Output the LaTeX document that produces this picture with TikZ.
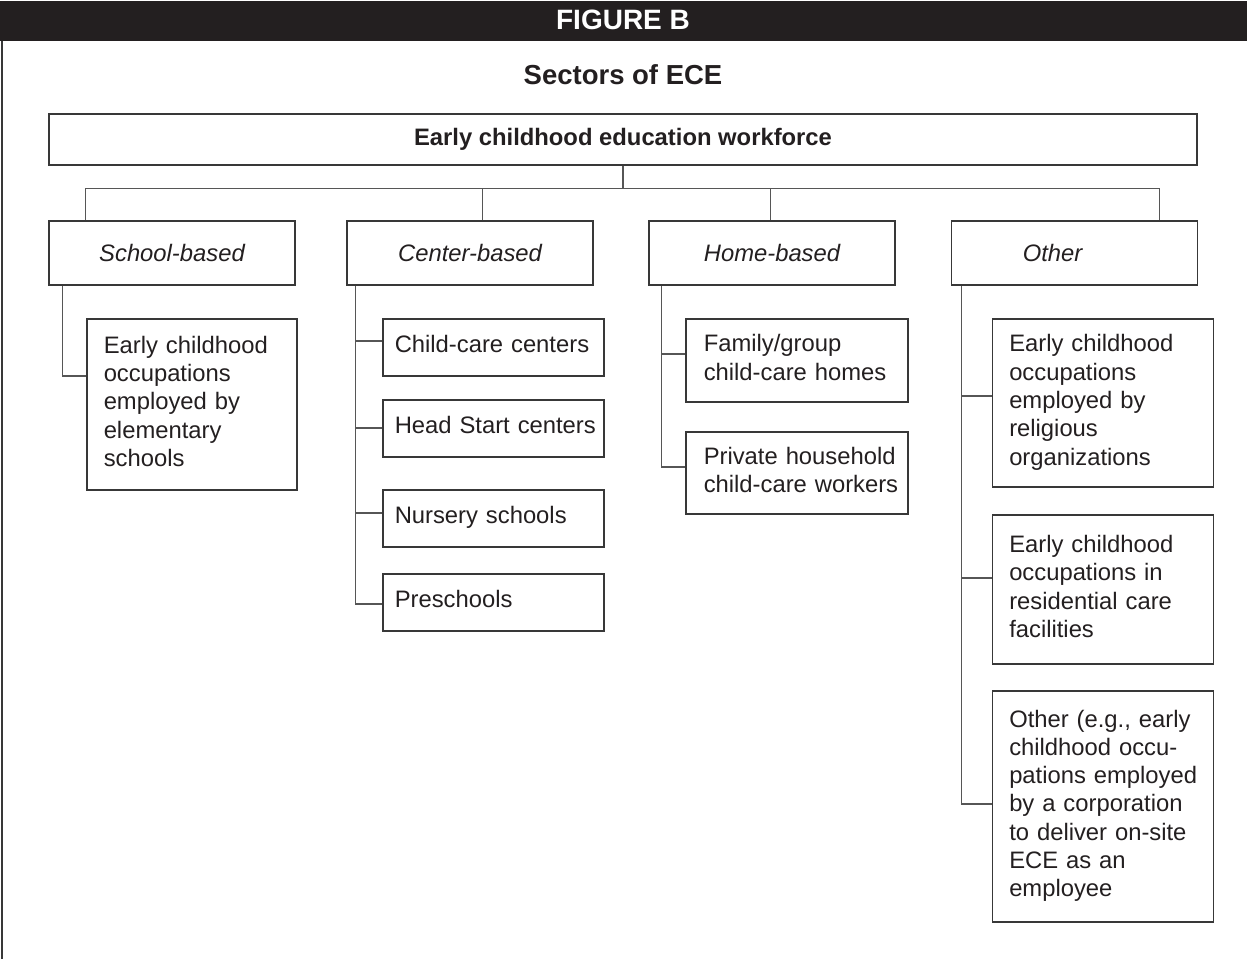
\documentclass[tikz,border=0pt]{standalone}
\usepackage{fontspec}
\setmainfont{Liberation Sans}
\usetikzlibrary{calc,positioning}
\definecolor{inkdark}{HTML}{231F20}
\definecolor{linegray}{HTML}{383838}
\hfuzz=40pt
\newcommand\boxlines[1]{\begin{tabular}{@{}l@{}}#1\end{tabular}}
\tikzset{%
	headbar/.style  = {fill=inkdark},
	headtext/.style = {text=white, inner sep=0pt, font=\fontsize{28}{30}\selectfont\bfseries},
	titletext/.style= {text=inkdark, inner sep=0pt, font=\fontsize{27.5}{30}\selectfont\bfseries},
	topbox/.style   = {draw=linegray, line width=1.5pt, rectangle, minimum width=1148pt, minimum height=51pt, inner sep=0pt, text=inkdark, font=\fontsize{23.8}{28}\selectfont\bfseries},
	catbox/.style   = {draw=linegray, line width=1.5pt, rectangle, minimum width=246pt, minimum height=64pt, inner sep=0pt, text=inkdark, font=\fontsize{23.8}{28.3}\selectfont\itshape},
	subbox/.style   = {draw=linegray, line width=1.5pt, rectangle, anchor=north west, inner xsep=17pt, inner ysep=0pt, align=left, text=inkdark, font=\fontsize{23.8}{28.3}\selectfont},
	link/.style     = {draw=linegray!85!white, line width=1.1pt},
}

\begin{document}
\begin{tikzpicture}[x=1pt,y=-1pt]
		\useasboundingbox (0,0) rectangle (1247,959);
		\fill[headbar] (0,0.5) rectangle (1247,41);
		\draw[linegray, line width=2pt] (2,41) -- (2,959);
		\node[headtext] (fig) at (623,19.5) {FIGURE B};
		\node[titletext] (title) at (623,75) {Sectors of ECE};
		
		\node[topbox] (ecew) at (623,139.5) {Early childhood education workforce};
		
		\node[catbox] (school) at (172,253) {School-based};
		\node[catbox] (center) at (470,253) {Center-based};
		\node[catbox] (home) at (772,253) {Home-based};
		\node[catbox] (other) at (1074.5,253) {Other\hspace*{44pt}};
		
		% bus from the workforce box
		\coordinate (bus) at ($(ecew.south)+(0,23)$);
		\coordinate (dS) at ($(school.north west)+(37,0)$);
		\coordinate (dC) at ($(center.north west)+(136,0)$);
		\coordinate (dH) at ($(home.north west)+(122,0)$);
		\coordinate (dO) at ($(other.north west)+(209,0)$);
		\draw[link] (ecew.south) -- (bus);
		\draw[link] (dS) -- (dS |- bus) -- (dO |- bus) -- (dO);
		\draw[link] (dC) -- (dC |- bus);
		\draw[link] (dH) -- (dH |- bus);
		
		\node[subbox, text width=176pt, minimum height=171pt] (s1) at (86,318) {\boxlines{Early childhood\\occupations\\employed by\\elementary\\schools}};
		
		\node[subbox, inner xsep=12pt, text width=197pt, minimum height=57pt] (c1) at (382,318) {\boxlines{Child-care centers}};
		\node[subbox, inner xsep=12pt, text width=197pt, minimum height=57pt] (c2) at (382,399) {\boxlines{Head Start centers}};
		\node[subbox, inner xsep=12pt, text width=197pt, minimum height=57pt] (c3) at (382,489) {\boxlines{Nursery schools}};
		\node[subbox, inner xsep=12pt, text width=197pt, minimum height=57pt] (c4) at (382,573) {\boxlines{Preschools}};
		
		\node[subbox, inner xsep=18pt, text width=186pt, minimum height=83pt] (h1) at (685,318) {\boxlines{Family/group\\child-care homes}};
		\node[subbox, inner xsep=18pt, text width=186pt, minimum height=82pt] (h2) at (685,431) {\boxlines{Private household\\child-care workers}};
		
		\node[subbox, text width=187pt, minimum height=168pt] (o1) at (991.5,318) {\boxlines{Early childhood\\occupations\\employed by\\religious\\organizations}};
		\node[subbox, text width=187pt, minimum height=149pt] (o2) at (991.5,514) {\boxlines{Early childhood\\occupations in\\residential care\\facilities}};
		\node[subbox, text width=187pt, minimum height=231pt] (o3) at (991.5,690) {\boxlines{Other (e.g., early\\childhood occu-\\pations employed\\by a corporation\\to deliver on-site\\ECE as an\\employee}};
		
		% trunks and branches
		\coordinate (sT) at ($(school.south west)+(14,0)$);
		\coordinate (cT) at ($(center.south west)+(9,0)$);
		\coordinate (hT) at ($(home.south west)+(13,0)$);
		\coordinate (oT) at ($(other.south west)+(11,0)$);
		\draw[link] (sT) |- ($(s1.north west)+(0,58)$);
		\foreach \b/\d in {c1/23,c2/29,c3/24,c4/31}
			\draw[link] (cT) |- ($(\b.north west)+(0,\d)$);
		\foreach \b/\d in {h1/36,h2/36}
			\draw[link] (hT) |- ($(\b.north west)+(0,\d)$);
		\foreach \b/\d in {o1/78,o2/64,o3/114}
			\draw[link] (oT) |- ($(\b.north west)+(0,\d)$);
		
	\end{tikzpicture}
\end{document}
